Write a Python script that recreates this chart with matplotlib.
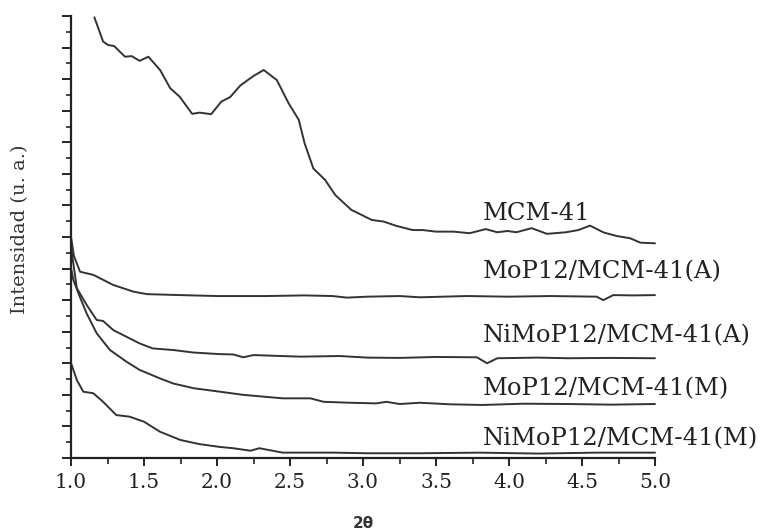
import numpy as np
import matplotlib
matplotlib.use("Agg")
import matplotlib.pyplot as plt
from matplotlib.ticker import MultipleLocator

# MCM-41 (only from 2theta ~1.16 upwards, it runs off the top before that)
mcm_x = [1.16, 1.22, 1.255, 1.295, 1.37, 1.415, 1.47, 1.53, 1.61, 1.68, 1.745, 1.83,
         1.88, 1.96, 2.03, 2.09, 2.16, 2.25, 2.32, 2.41, 2.49, 2.56, 2.60, 2.66, 2.74,
         2.81, 2.92, 3.06, 3.14, 3.23, 3.34, 3.41, 3.50, 3.62, 3.73, 3.84, 3.92, 3.99,
         4.05, 4.155, 4.26, 4.39, 4.475, 4.555, 4.65, 4.74, 4.83, 4.90, 5.0]
mcm_y = [13.96, 13.19, 13.08, 13.05, 12.71, 12.73, 12.58, 12.71, 12.29, 11.71, 11.44, 10.90,
         10.94, 10.89, 11.29, 11.43, 11.80, 12.10, 12.29, 11.97, 11.24, 10.71, 9.97, 9.17, 8.81,
         8.33, 7.86, 7.54, 7.49, 7.35, 7.22, 7.22, 7.17, 7.17, 7.12, 7.25, 7.15, 7.19,
         7.15, 7.28, 7.10, 7.15, 7.22, 7.36, 7.14, 7.03, 6.96, 6.82, 6.80]

mop_a_x = [1.0, 1.02, 1.062, 1.153, 1.29, 1.427, 1.52, 1.747, 2.0, 2.34, 2.6, 2.79, 2.89,
           3.03, 3.25, 3.39, 3.71, 4.0, 4.28, 4.60, 4.646, 4.714, 4.85, 5.0]
mop_a_y = [7.00, 6.40, 5.90, 5.80, 5.48, 5.27, 5.19, 5.16, 5.13, 5.13, 5.15, 5.13, 5.08,
           5.11, 5.13, 5.09, 5.13, 5.11, 5.13, 5.11, 5.00, 5.16, 5.15, 5.16]

nimo_a_x = [1.0, 1.04, 1.107, 1.176, 1.22, 1.29, 1.38, 1.47, 1.56, 1.70, 1.84, 2.02, 2.11,
            2.18, 2.25, 2.57, 2.84, 3.03, 3.25, 3.50, 3.78, 3.85, 3.92, 4.20, 4.40, 4.70, 5.0]
nimo_a_y = [6.68, 5.38, 4.85, 4.37, 4.34, 4.05, 3.84, 3.63, 3.47, 3.42, 3.34, 3.29, 3.28,
            3.19, 3.26, 3.21, 3.23, 3.18, 3.17, 3.20, 3.19, 3.00, 3.16, 3.18, 3.16, 3.17, 3.16]

mop_m_x = [1.0, 1.016, 1.06, 1.107, 1.176, 1.267, 1.38, 1.47, 1.61, 1.70, 1.84, 2.02, 2.18,
           2.45, 2.64, 2.73, 2.91, 3.09, 3.16, 3.25, 3.39, 3.60, 3.82, 4.10, 4.40, 4.70, 5.0]
mop_m_y = [6.02, 5.64, 5.11, 4.58, 3.95, 3.42, 3.05, 2.79, 2.52, 2.36, 2.21, 2.10, 2.00,
           1.89, 1.89, 1.78, 1.75, 1.73, 1.78, 1.71, 1.75, 1.70, 1.68, 1.72, 1.71, 1.69, 1.71]

nimo_m_x = [1.0, 1.04, 1.084, 1.153, 1.22, 1.31, 1.40, 1.50, 1.61, 1.75, 1.88, 2.02, 2.11,
            2.23, 2.29, 2.45, 2.80, 3.03, 3.39, 3.80, 4.20, 4.60, 5.0]
nimo_m_y = [3.01, 2.47, 2.10, 2.05, 1.78, 1.36, 1.31, 1.15, 0.83, 0.57, 0.44, 0.35, 0.31,
            0.23, 0.31, 0.17, 0.17, 0.15, 0.15, 0.17, 0.14, 0.17, 0.17]

labels = ["MCM-41", "MoP12/MCM-41(A)", "NiMoP12/MCM-41(A)",
          "MoP12/MCM-41(M)", "NiMoP12/MCM-41(M)"]
label_y = [7.54, 5.70, 3.68, 2.00, 0.41]

series = [(mcm_x, mcm_y), (mop_a_x, mop_a_y), (nimo_a_x, nimo_a_y),
          (mop_m_x, mop_m_y), (nimo_m_x, nimo_m_y)]

plt.rcParams['font.family'] = ['DejaVu Serif']

fig = plt.figure(figsize=(7.69, 5.30), dpi=100)
ax = fig.add_axes([71 / 769, 1 - 458 / 530, (655 - 71) / 769, (458 - 16) / 530])

line_color = '#333333'
for x, y in series:
    ax.plot(x, y, color=line_color, linewidth=1.4, clip_on=False,
            solid_joinstyle='round', solid_capstyle='round')

for lab, ly in zip(labels, label_y):
    ax.text(3.82, ly, lab, fontsize=17.5, color='#222222', va='baseline', ha='left')

ax.set_xlim(1.0, 5.0)
ax.set_ylim(0, 14)
ax.spines['top'].set_visible(False)
ax.spines['right'].set_visible(False)
for side in ['left', 'bottom']:
    ax.spines[side].set_linewidth(1.6)
    ax.spines[side].set_color('#222222')

ax.xaxis.set_minor_locator(MultipleLocator(0.25))
ax.yaxis.set_major_locator(MultipleLocator(1))
ax.yaxis.set_minor_locator(MultipleLocator(0.5))
ax.set_xticks(np.arange(1.0, 5.01, 0.5))
ax.set_xticklabels([f"{v:.1f}" for v in np.arange(1.0, 5.01, 0.5)])
ax.tick_params(axis='x', which='major', direction='out', length=6, width=1.4,
               labelsize=14.5, colors='#222222', pad=5)
ax.tick_params(axis='x', which='minor', direction='out', length=4, width=1.2, colors='#222222')
ax.tick_params(axis='y', which='major', direction='out', length=6.5, width=1.4,
               labelleft=False, colors='#222222')
ax.tick_params(axis='y', which='minor', direction='out', length=3.5, width=1.2, colors='#222222')

fig.text(20 / 769, 1 - 229 / 530, "Intensidad (u. a.)", rotation=90, fontsize=14,
         ha='center', va='center', color='#333333')
fig.text(363 / 769, 1 - 516 / 530, "2θ", fontsize=11, fontweight='bold',
         family='DejaVu Sans', ha='center', va='top', color='#333333')

fig.savefig("out.png", dpi=100)
